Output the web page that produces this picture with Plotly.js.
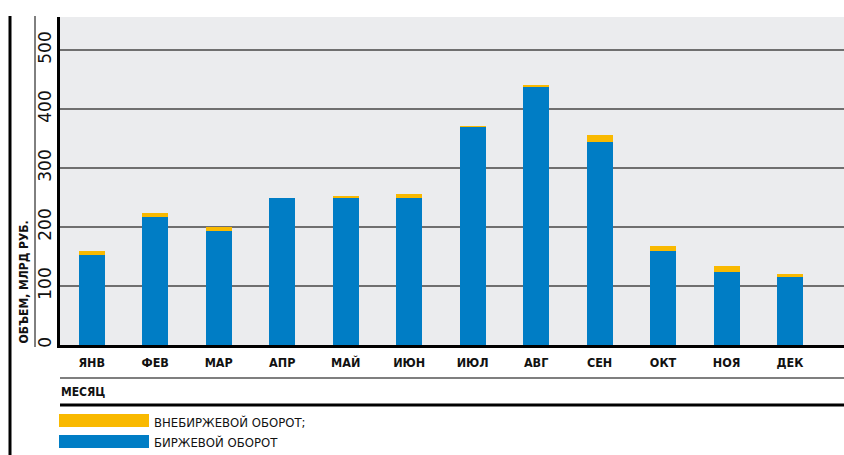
<!DOCTYPE html>
<html>
<head>
<meta charset="utf-8">
<script src="https://cdn.plot.ly/plotly-3.0.1.min.js"></script>
<style>
html,body{margin:0;padding:0;background:#fff;}
#chart{width:844px;height:455px;}
</style>
</head>
<body>
<div id="chart"></div>
<script>
const months = ['ЯНВ','ФЕВ','МАР','АПР','МАЙ','ИЮН','ИЮЛ','АВГ','СЕН','ОКТ','НОЯ','ДЕК'];
const exchange = [152.5, 217.5, 193, 249, 249, 249, 369.5, 437, 344, 159, 124, 115];
const otc = [6.5, 6.5, 7.5, 0, 3.5, 7, 1.5, 3.5, 12, 9, 10, 5];
const yTicks = [0, 100, 200, 300, 400, 500];
const seriesNames = ['БИРЖЕВОЙ ОБОРОТ', 'ВНЕБИРЖЕВОЙ ОБОРОТ;'];
const yTitle = 'ОБЪЕМ, МЛРД РУБ.';
const xTitle = 'МЕСЯЦ';

const BLUE = '#007dc5';
const ORANGE = '#f9b900';
const NARROW = '"DejaVu Sans Condensed", "Liberation Sans Narrow", sans-serif';

const traces = [
  {type:'bar', x: months, y: exchange, name: seriesNames[0], marker:{color: BLUE}, width: 0.41, hoverinfo:'skip'},
  {type:'bar', x: months, y: otc, name: seriesNames[1], marker:{color: ORANGE}, width: 0.41, hoverinfo:'skip'}
];

const L = 60, T = 17, W = 844, H = 455, B = 110;
const pw = W - L, ph = H - T - B;
const px = v => (v - L) / pw;
const py = v => (H - B - v) / ph;

const layout = {
  width: W, height: H,
  margin: {l: L, r: 0, t: T, b: B, pad: 0},
  paper_bgcolor: '#ffffff',
  plot_bgcolor: '#ebecee',
  barmode: 'stack',
  bargap: 0,
  showlegend: false,
  font: {family: NARROW, color: '#111'},
  xaxis: {
    type: 'category',
    range: [-0.5, 11.85],
    automargin: false,
    showgrid: false,
    zeroline: false,
    showline: true, linecolor: '#000', linewidth: 3,
    ticks: 'outside', ticklen: 4, tickcolor: 'rgba(0,0,0,0)',
    tickfont: {family: NARROW, size: 12.5, color: '#111', weight: 'bold'},
    fixedrange: true
  },
  yaxis: {
    range: [0, 556],
    automargin: false,
    tickvals: yTicks,
    ticktext: yTicks.map(String),
    tickangle: -90,
    showgrid: true, gridcolor: '#6f6f6f', gridwidth: 1.6,
    zeroline: false,
    showline: true, linecolor: '#000', linewidth: 3,
    ticks: '', ticklabelstandoff: -1,
    tickfont: {family: '"DejaVu Sans", sans-serif', size: 17, color: '#111'},
    fixedrange: true
  },
  shapes: [
    {type:'line', xref:'paper', yref:'paper', x0: px(10), x1: px(10), y0: py(16), y1: py(460), line:{color:'#000', width:3}},
    {type:'line', xref:'paper', yref:'paper', x0: px(35), x1: px(35), y0: py(16), y1: py(347), line:{color:'#000', width:1}},
    {type:'line', xref:'paper', yref:'paper', x0: 0, x1: 1, y0: py(378), y1: py(378), line:{color:'#000', width:1.2}},
    {type:'line', xref:'paper', yref:'paper', x0: 0, x1: 1, y0: py(405), y1: py(405), line:{color:'#000', width:3}},
    {type:'rect', xref:'paper', yref:'paper', x0: px(59), x1: px(149), y0: py(414), y1: py(427), fillcolor: ORANGE, line:{width:0}},
    {type:'rect', xref:'paper', yref:'paper', x0: px(59), x1: px(149), y0: py(435), y1: py(448), fillcolor: BLUE, line:{width:0}}
  ],
  annotations: [
    {xref:'paper', yref:'paper', x: px(24), y: py(346), xanchor:'center', yanchor:'bottom', textangle:-90, showarrow:false,
     text: yTitle, font:{family: NARROW, size:12, color:'#111', weight:'bold'}},
    {xref:'paper', yref:'paper', x: px(59), y: py(392), xanchor:'left', yanchor:'middle', showarrow:false,
     text: xTitle, font:{family: NARROW, size:12, color:'#111', weight:'bold'}},
    {xref:'paper', yref:'paper', x: px(152), y: py(422), xanchor:'left', yanchor:'middle', showarrow:false,
     text: seriesNames[1], font:{family: NARROW, size:13, color:'#111'}},
    {xref:'paper', yref:'paper', x: px(152), y: py(442), xanchor:'left', yanchor:'middle', showarrow:false,
     text: seriesNames[0], font:{family: NARROW, size:13, color:'#111'}}
  ]
};

Plotly.newPlot('chart', traces, layout, {displayModeBar:false, staticPlot:true});
</script>
</body>
</html>
